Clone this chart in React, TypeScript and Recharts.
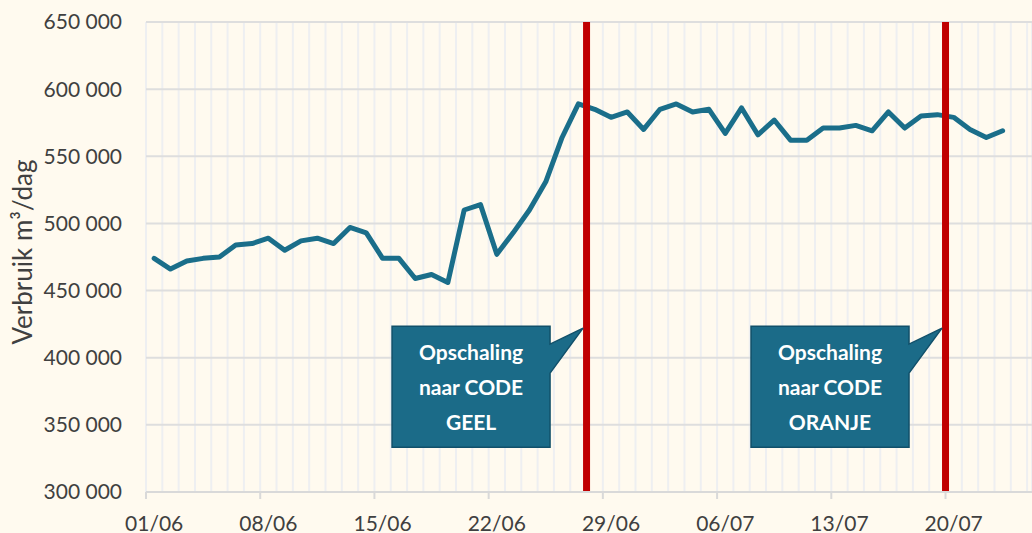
import React from 'react';
import { LineChart, Line, XAxis, YAxis, CartesianGrid, ReferenceLine, ReferenceDot } from 'recharts';

const DATES = [
  '01/06', '02/06', '03/06', '04/06', '05/06', '06/06', '07/06', '08/06', '09/06', '10/06',
  '11/06', '12/06', '13/06', '14/06', '15/06', '16/06', '17/06', '18/06', '19/06', '20/06',
  '21/06', '22/06', '23/06', '24/06', '25/06', '26/06', '27/06', '28/06', '29/06', '30/06',
  '01/07', '02/07', '03/07', '04/07', '05/07', '06/07', '07/07', '08/07', '09/07', '10/07',
  '11/07', '12/07', '13/07', '14/07', '15/07', '16/07', '17/07', '18/07', '19/07', '20/07',
  '21/07', '22/07', '23/07',
];

const VERBRUIK = [
  474000, 466000, 472000, 474000, 475000, 484000, 485000, 489000, 480000, 487000,
  489000, 485000, 497000, 493000, 474000, 474000, 459000, 462000, 456000, 510000,
  514000, 477000, 493000, 510000, 531000, 564000, 589000, 585000, 579000, 583000,
  570000, 585000, 589000, 583000, 585000, 567000, 586000, 566000, 577000, 562000,
  562000, 571000, 571000, 573000, 569000, 583000, 571000, 580000, 581000, 579000,
  570000, 564000, 569000,
];

const X_TICK_LABELS = ['01/06', '08/06', '15/06', '22/06', '29/06', '06/07', '13/07', '20/07'];
const Y_TICKS = [300000, 350000, 400000, 450000, 500000, 550000, 600000, 650000];

const CODE_CHANGES = [
  { date: '28/06', lines: ['Opschaling', 'naar CODE', 'GEEL'] },
  { date: '20/07', lines: ['Opschaling', 'naar CODE', 'ORANJE'] },
];

const Y_TITLE = 'Verbruik m³/dag';

// layout / style constants
const W = 1032;
const H = 533;
const LEFT = 146;
const TOP = 22;
const X_AXIS_H = 41;
const X_MIN = -0.5;
const X_MAX = 53.8;
const HALF_DAY = (W - LEFT) / (X_MAX - X_MIN) / 2;
const CALLOUT_ANCHOR_VALUE = 422000;
const FONT = 'Lato, "Open Sans", sans-serif';
const TEXT_COLOR = '#404040';
const LINE_COLOR = '#1a6e8a';
const BOX_FILL = '#1b6b88';
const BOX_STROKE = '#11506a';
const RED = '#c00000';

const data = DATES.map((d, i) => ({ day: i, date: d, verbruik: VERBRUIK[i] }));
const X_BOUNDARIES = [...DATES.map((_, i) => i - 0.5), DATES.length - 0.5, DATES.length + 0.5];

const fmt = (v: number) => String(v).replace(/\B(?=(\d{3})+(?!\d))/g, ' ');

const XTick = (props: any) => {
  const { x, y, payload } = props;
  const idx = Math.round(payload.value + 0.5);
  const label = DATES[idx];
  if (!label || !X_TICK_LABELS.includes(label)) return <g />;
  return (
    <g>
      <line x1={x} y1={y} x2={x} y2={y + 7} stroke="#d9d9d9" strokeWidth={2} />
      <text x={x + HALF_DAY} y={y + 39} textAnchor="middle" fill={TEXT_COLOR} fontSize={21} fontFamily={FONT}>
        {label}
      </text>
    </g>
  );
};

const Callout = (props: any) => {
  const { cx, cy, lines } = props;
  const ax = cx - 3.5;
  const ay = cy;
  const R = ax - 33;
  const BW = 158;
  const BH = 121;
  const L = R - BW;
  const T = ay - 2;
  const B = T + BH;
  const d = `M${L},${T} H${R} V${T + 18} L${ax},${ay} L${R},${T + 47} V${B} H${L} Z`;
  const mid = (L + R) / 2;
  return (
    <g>
      <path d={d} fill={BOX_FILL} stroke={BOX_STROKE} strokeWidth={1.5} />
      {lines.map((t: string, i: number) => (
        <text key={i} x={mid} y={T + 34 + i * 35} textAnchor="middle" fill="#ffffff" fontSize={21} fontWeight={700} fontFamily={FONT}>
          {t}
        </text>
      ))}
    </g>
  );
};

const YTitle = (props: any) => {
  const vb = props.viewBox || { x: 0, y: TOP, width: LEFT, height: H - TOP - X_AXIS_H };
  const cx = vb.x + 31.5;
  const cy = vb.y + vb.height / 2 - 5;
  return (
    <text x={cx} y={cy} transform={`rotate(-90 ${cx} ${cy})`} textAnchor="middle" fill={TEXT_COLOR} fontSize={26} fontFamily={FONT}>
      {Y_TITLE}
    </text>
  );
};

export default function App() {
  return (
    <div style={{ position: 'absolute', left: 0, top: 0, width: W, height: H, overflow: 'hidden', background: '#fffaef' }}>
      <LineChart width={W} height={H} data={data} margin={{ top: TOP, right: 0, bottom: 0, left: 0 }}>
        <CartesianGrid horizontal={false} vertical={true} stroke="#eeeff1" strokeWidth={2} />
        <CartesianGrid horizontal={true} vertical={false} stroke="#dedede" strokeWidth={2} />
        <XAxis
          dataKey="day"
          type="number"
          domain={[X_MIN, X_MAX]}
          allowDataOverflow
          ticks={X_BOUNDARIES}
          interval={0}
          tick={<XTick />}
          tickLine={false}
          tickSize={0}
          tickMargin={0}
          axisLine={{ stroke: '#d9d9d9', strokeWidth: 2 }}
          height={X_AXIS_H}
        />
        <YAxis
          type="number"
          domain={[300000, 650000]}
          ticks={Y_TICKS}
          interval={0}
          tickFormatter={fmt}
          width={LEFT}
          axisLine={false}
          tickLine={false}
          tickSize={0}
          tickMargin={24}
          tick={{ fill: TEXT_COLOR, fontSize: 21, fontFamily: FONT }}
          label={{ content: <YTitle /> }}
        />
        <Line
          type="linear"
          dataKey="verbruik"
          stroke={LINE_COLOR}
          strokeWidth={5}
          dot={false}
          activeDot={false}
          strokeLinejoin="round"
          strokeLinecap="round"
          isAnimationActive={false}
        />
        {CODE_CHANGES.map((c) => (
          <ReferenceLine key={'l' + c.date} x={DATES.indexOf(c.date) - 0.5} stroke={RED} strokeWidth={7} />
        ))}
        {CODE_CHANGES.map((c) => (
          <ReferenceDot
            key={'d' + c.date}
            x={DATES.indexOf(c.date) - 0.5}
            y={CALLOUT_ANCHOR_VALUE}
            r={0}
            shape={(p: any) => <Callout {...p} lines={c.lines} />}
          />
        ))}
      </LineChart>
    </div>
  );
}
